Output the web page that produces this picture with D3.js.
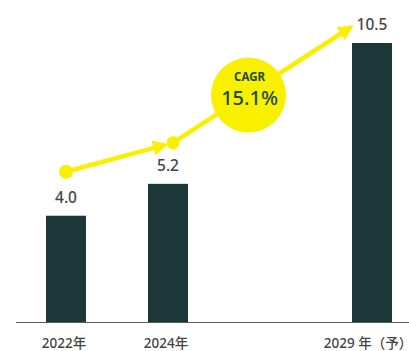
<!DOCTYPE html>
<html>
<head>
<meta charset="utf-8">
<script src="https://cdn.jsdelivr.net/npm/d3@7"></script>
<style>
  html, body { margin: 0; padding: 0; background: #fff; }
  svg { display: block; }
  text { font-family: "Noto Sans", "Noto Sans CJK JP", sans-serif; }
</style>
</head>
<body>
<svg id="chart" width="409" height="351"></svg>
<script>
// Market size by year
const categories = ["2022年", "2024年", "2029 年（予）"];
const values = [4.0, 5.2, 10.5];
const valueLabels = ["4.0", "5.2", "10.5"];
// Slot order on the x axis; the empty slot leaves room for the skipped years
const slots = ["2022年", "2024年", "", "2029 年（予）"];
const cagrTitle = "CAGR";
const cagrValue = "15.1%";

const W = 409, H = 351;
const baseY = 322;

const svg = d3.select("#chart");

const x = d3.scaleBand()
  .domain(slots)
  .range([15, 423])
  .paddingInner(0.608)
  .paddingOuter(0.304);

const y = d3.scaleLinear()
  .domain([0, 10.5])
  .range([baseY, 43]);

const cx = c => x(c) + x.bandwidth() / 2;

// Bars
svg.append("g").selectAll("rect")
  .data(categories)
  .join("rect")
  .attr("x", c => x(c))
  .attr("y", (c, i) => y(values[i]))
  .attr("width", x.bandwidth())
  .attr("height", (c, i) => baseY - y(values[i]))
  .attr("fill", "#1c3839");

// Baseline
svg.append("line")
  .attr("x1", 16).attr("x2", W)
  .attr("y1", baseY + 0.5).attr("y2", baseY + 0.5)
  .attr("stroke", "#5a5a5a")
  .attr("stroke-width", 1.2);

// Category labels
const axis = d3.axisBottom(x).tickValues(categories).tickSize(0).tickPadding(0);
const gx = svg.append("g").attr("transform", `translate(0,${baseY})`).call(axis);
gx.select(".domain").remove();
gx.selectAll("text")
  .attr("y", 26)
  .attr("dy", null)
  .attr("dx", (d, i) => i === 2 ? -4 : -2)
  .style("font-family", '"Noto Sans", "Noto Sans CJK JP", sans-serif')
  .style("font-size", "13.5px")
  .style("font-weight", 500)
  .attr("fill", "#444");

// Value labels
svg.append("g").selectAll("text")
  .data(categories)
  .join("text")
  .attr("x", c => cx(c))
  .attr("y", (c, i) => y(values[i]) - 13)
  .attr("text-anchor", "middle")
  .attr("font-size", 15.5)
  .attr("font-weight", 500)
  .attr("fill", "#444")
  .text((c, i) => valueLabels[i]);

// Growth arrow
const yellow = "#f9f000";
const p0 = [cx(categories[0]), y(values[0]) - 44];
const p1 = [cx(categories[1]) + 5, y(values[1]) - 41];
const p2 = [cx(categories[2]) - 21, y(values[2]) - 16];

const defs = svg.append("defs");
defs.append("marker")
  .attr("id", "arrow")
  .attr("viewBox", "0 0 10 10")
  .attr("refX", 8).attr("refY", 5)
  .attr("markerWidth", 3.4).attr("markerHeight", 3.4)
  .attr("markerUnits", "strokeWidth")
  .attr("orient", "auto")
  .append("path")
  .attr("d", "M0,0 L10,5 L0,10 Z")
  .attr("fill", yellow);

function shorten(a, b, d) {
  const dx = b[0] - a[0], dy = b[1] - a[1];
  const L = Math.hypot(dx, dy);
  return [b[0] - dx / L * d, b[1] - dy / L * d];
}

const seg1End = shorten(p0, p1, 8);
svg.append("line")
  .attr("x1", p0[0]).attr("y1", p0[1])
  .attr("x2", seg1End[0]).attr("y2", seg1End[1])
  .attr("stroke", yellow).attr("stroke-width", 4.5)
  .attr("marker-end", "url(#arrow)");

svg.append("line")
  .attr("x1", p1[0]).attr("y1", p1[1])
  .attr("x2", p2[0]).attr("y2", p2[1])
  .attr("stroke", yellow).attr("stroke-width", 4.5)
  .attr("marker-end", "url(#arrow)");

svg.append("circle").attr("cx", p0[0]).attr("cy", p0[1]).attr("r", 7).attr("fill", yellow);
svg.append("circle").attr("cx", p1[0]).attr("cy", p1[1]).attr("r", 6.5).attr("fill", yellow);

// CAGR badge on the arrow
const t = 0.43;
const bc = [p1[0] + (p2[0] - p1[0]) * t, p1[1] + (p2[1] - p1[1]) * t];
svg.append("circle")
  .attr("cx", bc[0] - 1).attr("cy", bc[1] + 2)
  .attr("r", 37.5)
  .attr("fill", yellow);

svg.append("text")
  .attr("x", bc[0]).attr("y", bc[1] - 12.5)
  .attr("text-anchor", "middle")
  .attr("font-size", 11.5)
  .attr("font-weight", 700)
  .attr("fill", "#1f4a36")
  .text(cagrTitle);

svg.append("text")
  .attr("x", bc[0]).attr("y", bc[1] + 11.5)
  .attr("text-anchor", "middle")
  .attr("font-size", 20)
  .attr("font-weight", 500)
  .attr("fill", "#1f4a36")
  .text(cagrValue);
</script>
</body>
</html>
